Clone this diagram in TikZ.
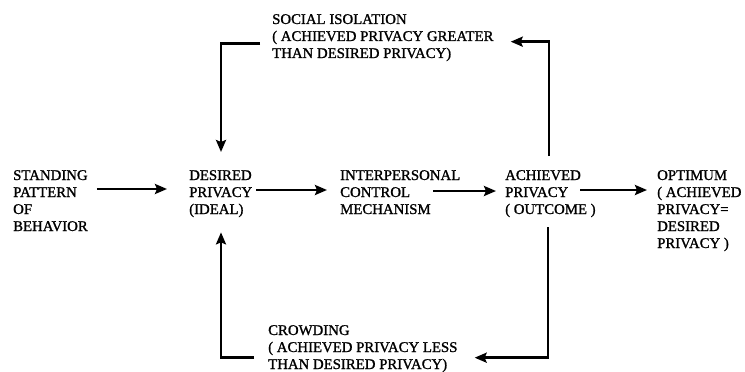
\documentclass[tikz,border=0pt]{standalone}
\usepackage{fontspec}
\setmainfont{Liberation Serif}[FakeBold=1.2]
\usetikzlibrary{arrows.meta, positioning}

\begin{document}
\begin{tikzpicture}[
    x=1pt, y=-1pt,
    lbl/.style={align=left, anchor=north west, inner sep=0pt,
                font=\fontsize{14.8}{17}\selectfont},
    arr/.style={-{Stealth[length=12pt, width=10pt, inset=2pt]}, line width=2.6pt}
]
    \useasboundingbox (0,0) rectangle (745,372);

    \node[lbl] (stand)    at (13,  170) {STANDING\\PATTERN\\OF\\BEHAVIOR};
    \node[lbl] (desired)  at (189, 170) {DESIRED\\PRIVACY\\(IDEAL)};
    \node[lbl] (inter)    at (340, 170) {INTERPERSONAL\\CONTROL\\MECHANISM};
    \node[lbl] (achieved) at (505, 170) {ACHIEVED\\PRIVACY\\( OUTCOME )};
    \node[lbl] (optimum)  at (657, 170) {OPTIMUM\\( ACHIEVED\\PRIVACY=\\DESIRED\\PRIVACY )};
    \node[lbl] (social)   at (272, 14)  {SOCIAL ISOLATION\\( ACHIEVED PRIVACY GREATER\\THAN DESIRED PRIVACY)};
    \node[lbl] (crowd)    at (268, 325) {CROWDING\\( ACHIEVED PRIVACY LESS\\THAN DESIRED PRIVACY)};

    % main row
    \draw[arr] ([xshift=9pt, yshift=-19pt]stand.north east)  -- ([xshift=-22pt, yshift=-19pt]desired.north west);
    \draw[arr] ([xshift=4pt, yshift=-20pt]desired.north east) -- ([xshift=-13pt, yshift=-20pt]inter.north west);
    \draw[arr] ([xshift=93pt, yshift=-21pt]inter.north west)  -- ([xshift=-9pt, yshift=-21pt]achieved.north west);
    \draw[arr] ([xshift=75pt, yshift=-20pt]achieved.north west) -- ([xshift=-10pt, yshift=-20pt]optimum.north west);

    % feedback loops
    \draw[arr] ([xshift=44pt, yshift=14pt]achieved.north west) |- ([xshift=17pt, yshift=-4pt]social.east);
    \draw[arr] ([xshift=-12pt, yshift=-6pt]social.west) -| ([xshift=32pt, yshift=18pt]desired.north west);
    \draw[arr] ([xshift=43pt, yshift=-10pt]achieved.south west) |- ([xshift=17pt, yshift=-9pt]crowd.east);
    \draw[arr] ([xshift=-14pt, yshift=-9pt]crowd.west) -| ([xshift=32pt, yshift=-15pt]desired.south west);
\end{tikzpicture}
\end{document}
